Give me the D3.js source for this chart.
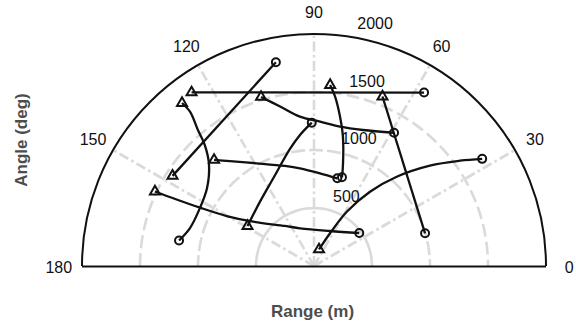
<!DOCTYPE html>
<html>
<head>
<meta charset="utf-8">
<script src="https://cdn.jsdelivr.net/npm/d3@7"></script>
<style>
  html, body { margin: 0; padding: 0; background: #fff; }
  svg { display: block; }
  text { font-family: "Liberation Sans", Arial, Helvetica, sans-serif; }
</style>
</head>
<body>
<svg id="chart" width="576" height="329"></svg>
<script>
// ---- data ----
const angleTicks = [0, 30, 60, 90, 120, 150, 180];
const rangeTicks = [500, 1000, 1500, 2000];
const rangeMax = 2000;

// each track: angles (deg) and ranges (m), first point = triangle, last = circle
const trackAngles = [
  [125.2, 57.6],
  [129.0, 128.8, 130.5, 132.2, 136.1, 143.9, 153.0, 163.0, 169.3],
  [107.4, 102.0, 95.4, 87.6, 79.4, 70.2, 59.0],
  [84.9, 82.9, 80.1, 77.4, 74.0, 72.5],
  [68.0, 16.4],
  [147.5, 100.6],
  [133.3, 129.7, 119.2, 106.2, 98.2, 86.3, 75.1],
  [154.9, 154.3, 152.9, 150.2, 143.9, 125.9, 110.4, 65.4, 36.1],
  [73.1, 63.9, 58.9, 53.0, 47.2, 40.9, 35.8, 32.5],
  [149.0, 130.0, 114.9, 101.6, 96.1, 90.9]
];
const trackRanges = [
  [1831, 1771],
  [1808, 1704, 1541, 1398, 1256, 1141, 1103, 1118, 1184],
  [1527, 1406, 1293, 1245, 1222, 1246, 1340],
  [1566, 1471, 1306, 1143, 906, 802],
  [1576, 998],
  [1446, 1787],
  [1256, 1177, 1014, 898, 851, 801, 782],
  [1514, 1346, 1104, 867, 648, 426, 347, 332, 483],
  [149, 314, 547, 802, 1049, 1322, 1552, 1719],
  [669, 724, 834, 1030, 1136, 1236]
];

// ---- layout ----
const cx = 314, cy = 266, R = 232;
const svg = d3.select("#chart");

const rScale = d3.scaleLinear().domain([0, rangeMax]).range([0, R]);
const aScale = d3.scaleLinear().domain([0, 180]).range([0, Math.PI]);
const px = (a, r) => cx + rScale(r) * Math.cos(aScale(a));
const py = (a, r) => cy - rScale(r) * Math.sin(aScale(a));

const gridColor = "#dadada";
const grid = svg.append("g");

// dashed range circles (upper half)
rangeTicks.filter(v => v < rangeMax).forEach(v => {
  const arc = d3.arc()({innerRadius: rScale(v), outerRadius: rScale(v), startAngle: -Math.PI/2, endAngle: Math.PI/2});
  grid.append("path")
    .attr("transform", `translate(${cx},${cy})`)
    .attr("d", arc)
    .attr("fill", "none")
    .attr("stroke", gridColor)
    .attr("stroke-width", 2.6)
    .attr("stroke-dasharray", "11,7");
});

// dash-dot spokes
angleTicks.filter(a => a > 0 && a < 180).forEach(a => {
  grid.append("line")
    .attr("x1", cx).attr("y1", cy)
    .attr("x2", px(a, rangeMax)).attr("y2", py(a, rangeMax))
    .attr("stroke", gridColor)
    .attr("stroke-width", 2.6)
    .attr("stroke-dasharray", "10,3.5,2.5,3.5");
});

// outer half circle + baseline
const outer = d3.arc()({innerRadius: R, outerRadius: R, startAngle: -Math.PI/2, endAngle: Math.PI/2});
svg.append("path")
  .attr("transform", `translate(${cx},${cy})`)
  .attr("d", outer)
  .attr("fill", "none")
  .attr("stroke", "#111")
  .attr("stroke-width", 2);
svg.append("line")
  .attr("x1", px(180, rangeMax)).attr("y1", cy + 0.5)
  .attr("x2", px(0, rangeMax)).attr("y2", cy + 0.5)
  .attr("stroke", "#111")
  .attr("stroke-width", 2);

// angle labels
svg.append("g").selectAll("text").data(angleTicks).join("text")
  .attr("x", a => px(a, rangeMax * 1.1))
  .attr("y", a => py(a, rangeMax * 1.1) + 1.5)
  .attr("text-anchor", "middle")
  .attr("dominant-baseline", "central")
  .attr("font-size", 16)
  .attr("fill", "#111")
  .text(a => a);

// range labels (along 82 deg)
svg.append("g").selectAll("text").data(rangeTicks).join("text")
  .attr("x", v => px(82, v) + 11)
  .attr("y", v => py(82, v) - 7)
  .attr("text-anchor", "start")
  .attr("font-size", 16)
  .attr("fill", "#111")
  .text(v => v);

// tracks
const line = d3.line().curve(d3.curveCatmullRom.alpha(0.5));
const tracks = trackAngles.map((as, i) => as.map((a, j) => [px(a, trackRanges[i][j]), py(a, trackRanges[i][j])]));

const tg = svg.append("g");
tg.selectAll("path.track").data(tracks).join("path")
  .attr("class", "track")
  .attr("d", d => line(d))
  .attr("fill", "none")
  .attr("stroke", "#111")
  .attr("stroke-width", 2.3);

// start markers (triangles)
tg.selectAll("path.start").data(tracks).join("path")
  .attr("class", "start")
  .attr("transform", d => `translate(${d[0][0]},${d[0][1]})`)
  .attr("d", "M0,-5.8L5,2.9L-5,2.9Z")
  .attr("fill", "none")
  .attr("stroke", "#111")
  .attr("stroke-width", 2);

// end markers (circles)
tg.selectAll("circle.end").data(tracks).join("circle")
  .attr("class", "end")
  .attr("cx", d => d[d.length - 1][0])
  .attr("cy", d => d[d.length - 1][1])
  .attr("r", 4)
  .attr("fill", "none")
  .attr("stroke", "#111")
  .attr("stroke-width", 2);

// axis titles
svg.append("text")
  .attr("x", 312.5).attr("y", 316.5)
  .attr("text-anchor", "middle")
  .attr("font-size", 17)
  .attr("font-weight", "bold")
  .attr("fill", "#4d4d4d")
  .text("Range (m)");
svg.append("text")
  .attr("transform", "translate(27,140) rotate(-90)")
  .attr("text-anchor", "middle")
  .attr("font-size", 17)
  .attr("font-weight", "bold")
  .attr("fill", "#4d4d4d")
  .text("Angle (deg)");
</script>
</body>
</html>
